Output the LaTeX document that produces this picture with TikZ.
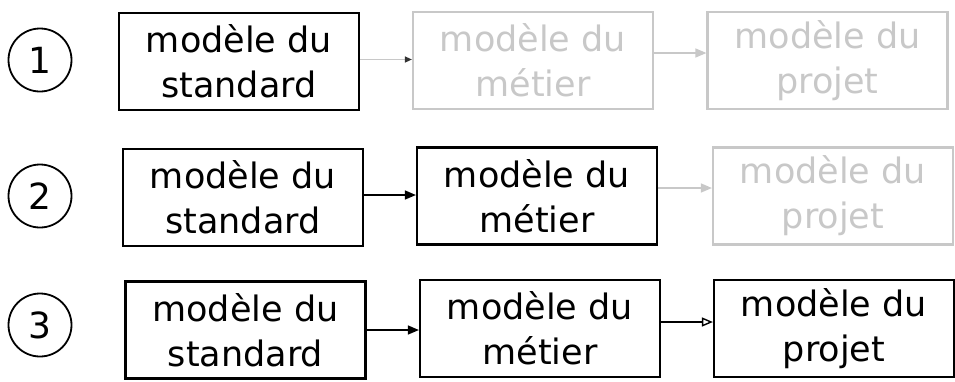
\documentclass[tikz,border=0pt]{standalone}
\usepackage{fontspec}
\setmainfont{DejaVu Sans}
\usetikzlibrary{arrows.meta}
\definecolor{faint}{RGB}{200,200,200}
\tikzset{
  box/.style={draw=black, line width=2.2pt, minimum width=240pt, minimum height=97pt,
    inner sep=0pt, align=center, text=black, font=\fontsize{35}{45}\selectfont},
  fbox/.style={box, draw=faint, text=faint},
  num/.style={circle, draw=black, line width=1.8pt, minimum size=63pt, inner sep=0pt,
    font=\fontsize{36}{40}\selectfont},
  arr/.style={line width=1.4pt, -{Triangle[length=11pt,width=9pt]}},
  oarr/.style={line width=1.4pt, -{Triangle[open,length=11pt,width=9pt,line width=1.4pt]}},
  farr/.style={line width=1.4pt, draw=faint, -{Triangle[length=11pt,width=9pt,fill=faint]}},
  farrd/.style={line width=1.4pt, draw=faint, -{Triangle[length=7pt,width=6pt,color=black!80]}}
}
\begin{document}
\begin{tikzpicture}[x=1pt,y=-1pt]
\useasboundingbox (0,0) rectangle (955,381);
% row 1
\node[num] (n1) at (40,60) {1};
\node[box]  (A1) at (239,61.5) {modèle du\\standard};
\node[fbox] (B1) at (533,60.5) {modèle du\\métier};
\node[fbox] (C1) at (827.5,60.5) {modèle du\\projet};
\draw[farrd] (A1.east) ++(0,-2) coordinate (p1) -- (p1 -| B1.west);
\draw[farr] (B1.east) ++(0,-7.5) coordinate (p2) -- (p2 -| C1.west);
% row 2
\node[num] (n2) at (40,196) {2};
\node[box]  (A2) at (243,197.5) {modèle du\\standard};
\node[box]  (B2) at (537,196) {modèle du\\métier};
\node[fbox] (C2) at (833,196) {modèle du\\projet};
\draw[arr] (A2.east) ++(0,-2.5) coordinate (p3) -- (p3 -| B2.west);
\draw[farr] (B2.east) ++(0,-8) coordinate (p4) -- (p4 -| C2.west);
% row 3
\node[num] (n3) at (40,325) {3};
\node[box] (A3) at (245.5,330) {modèle du\\standard};
\node[box] (B3) at (540,328.5) {modèle du\\métier};
\node[box] (C3) at (834,328.5) {modèle du\\projet};
\draw[arr] (A3.east) ++(0,0) coordinate (p5) -- (p5 -| B3.west);
\draw[oarr] (B3.east) ++(0,-6.5) coordinate (p6) -- (p6 -| C3.west);
\end{tikzpicture}
\end{document}
